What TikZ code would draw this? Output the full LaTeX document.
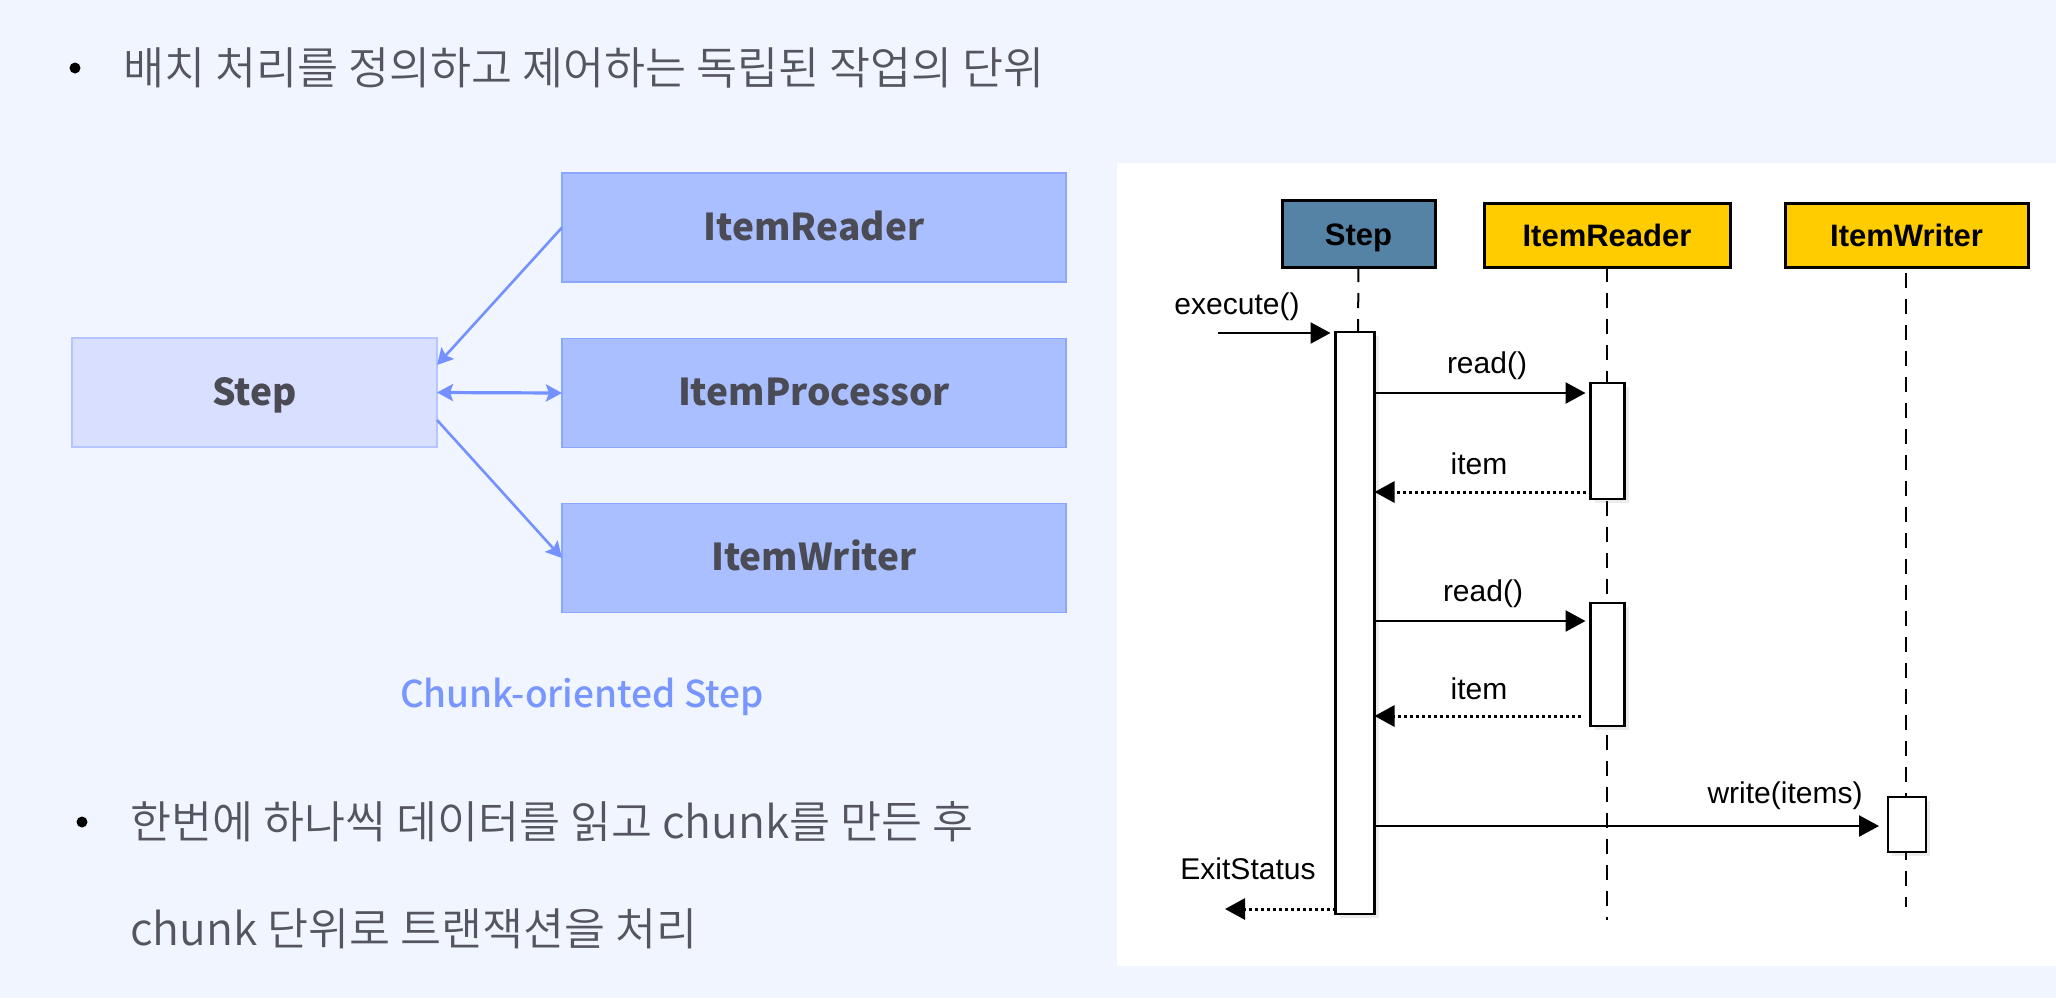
\documentclass[tikz,border=0pt]{standalone}
\usepackage{fontspec}
\setmainfont{Noto Sans CJK KR}
\newfontfamily\krlight{Noto Sans CJK KR DemiLight}
\newfontfamily\krmed{Noto Sans CJK KR Medium}
\newfontfamily\arial{Liberation Sans}
\usetikzlibrary{arrows.meta,shadows}
\definecolor{bg}{RGB}{240,245,255}
\definecolor{stepfill}{RGB}{217,224,255}
\definecolor{stepdraw}{RGB}{182,197,255}
\definecolor{itemfill}{RGB}{170,191,255}
\definecolor{itemdraw}{RGB}{140,165,255}
\definecolor{arrowblue}{RGB}{115,145,255}
\definecolor{labelgray}{RGB}{75,75,85}
\definecolor{textgray}{RGB}{85,85,95}
\definecolor{chunkblue}{RGB}{120,150,255}
\definecolor{seqblue}{RGB}{84,131,166}
\definecolor{seqyellow}{RGB}{255,204,0}
\begin{document}
\begin{tikzpicture}[x=0.5pt,y=-0.5pt,
  every node/.style={inner sep=0pt, outer sep=0pt},
  kr/.style={font=\krlight\fontsize{22.3pt}{26pt}\selectfont, text=textgray, anchor=west},
  bulletdot/.style={circle, fill=black, minimum size=5.5pt},
  stepbox/.style={draw=stepdraw, fill=stepfill, line width=0.75pt, minimum width=182.5pt, minimum height=54.5pt, font=\bfseries\fontsize{18.5pt}{22pt}\selectfont, text=labelgray, text height=12.5pt, text depth=0pt},
  itembox/.style={stepbox, draw=itemdraw, fill=itemfill, minimum width=252pt},
  bluetip/.tip={Stealth[length=8pt,width=8.5pt,inset=1.5pt]},
  bluearrow/.style={draw=arrowblue, line width=1.3pt, -bluetip},
  head/.style={draw=black, line width=1.5pt, font=\arial\bfseries\fontsize{15.5pt}{18pt}\selectfont, text height=11.5pt, text depth=0pt, minimum height=32pt},
  life/.style={line width=1pt, dash pattern=on 7.5pt off 5.5pt},
  act/.style={draw=black, fill=white, line width=1.25pt, drop shadow={opacity=0.15, shadow xshift=2pt, shadow yshift=-2pt}},
  seqtip/.tip={Triangle[length=10pt,width=10.5pt]},
  msg/.style={line width=1.25pt, -seqtip, shorten >=2.5pt},
  ret/.style={line width=1.5pt, dash pattern=on 1.5pt off 1.5pt, -seqtip},
  lbl/.style={font=\arial\fontsize{15pt}{18pt}\selectfont, anchor=base},
]
\useasboundingbox (0,0) rectangle (2056,998);
\fill[bg] (0,0) rectangle (2056,998);

% bullets and text
\node[bulletdot] (b1) at (75,68) {};
\node[kr] (t1) at (123,68) {배치 처리를 정의하고 제어하는 독립된 작업의 단위};
\node[bulletdot] (b2) at (82,822) {};
\node[kr] (t2) at (130,821.5) {한번에 하나씩 데이터를 읽고 chunk를 만든 후};
\node[kr] (t3) at (130,928.5) {chunk 단위로 트랜잭션을 처리};

% left diagram
\node[stepbox] (step) at (254.5,392.5) {Step};
\node[itembox] (reader) at (814,227.5) {ItemReader};
\node[itembox] (proc) at (814,393) {ItemProcessor};
\node[itembox] (writer) at (814,558) {ItemWriter};
\draw[bluearrow] (reader.west) -- ([yshift=-13.5pt]step.north east);
\draw[bluearrow, line width=1.6pt, bluetip-bluetip] (step.east) -- (proc.west);
\draw[bluearrow] ([yshift=-13.75pt]step.east) -- (writer.west);
\node[font=\krmed\fontsize{18.5pt}{22pt}\selectfont, text=chunkblue, anchor=base] (cap) at (582,707) {Chunk-oriented Step};

% right panel
\fill[white] (1117,163) rectangle (2056,966);
\node[head, fill=seqblue, minimum width=76.5pt, minimum height=33.5pt] (stepH) at (1358.5,233.5) {Step};
\node[head, fill=seqyellow, minimum width=123pt] (readerH) at (1607,235) {ItemReader};
\node[head, fill=seqyellow, minimum width=121.5pt] (writerH) at (1906.5,235) {ItemWriter};

\coordinate (stepLifeEnd) at (1358,332);
\coordinate (readerEnd) at (1607,920);
\coordinate (writerStart) at (1906,273);
\coordinate (writerEnd) at (1906,907);
\draw[life] (stepH.south) -- (stepLifeEnd);
\draw[life] (readerH.south) -- (readerEnd);
\draw[life] (writerStart) -- (writerEnd);

\node[act, minimum width=19.5pt, minimum height=291pt] (stepAct) at (1355,623) {};
\node[act, minimum width=17pt, minimum height=58pt] (readAct1) at (1607.5,441) {};
\node[act, minimum width=17pt, minimum height=61.5pt] (readAct2) at (1607.5,664.5) {};
\node[act, minimum width=19pt, minimum height=27.5pt] (writeAct) at (1907,824.5) {};

% messages
\coordinate (execStart) at (1218,333);
\draw[msg] (execStart) -- (execStart -| stepAct.west);
\node[lbl] (lexec) at (1237,314) {execute()};

\coordinate (r1t) at ([yshift=-5pt]readAct1.north west);
\draw[msg] (stepAct.east |- r1t) -- (r1t);
\node[lbl] (lread1) at (1487,373) {read()};

\coordinate (i1s) at ([yshift=3.5pt,xshift=-2.5pt]readAct1.south west);
\draw[ret] (i1s) -- (stepAct.east |- i1s);
\node[lbl] (litem1) at (1479,474) {item};

\coordinate (r2t) at ([yshift=-9pt]readAct2.north west);
\draw[msg] (stepAct.east |- r2t) -- (r2t);
\node[lbl] (lread2) at (1483,601) {read()};

\coordinate (i2s) at ([yshift=5pt,xshift=-5pt]readAct2.south west);
\draw[ret] (i2s) -- (stepAct.east |- i2s);
\node[lbl] (litem2) at (1479,699) {item};

\coordinate (wt) at ([yshift=-14.5pt]writeAct.north west);
\draw[msg, shorten >=4.5pt] (stepAct.east |- wt) -- (wt);
\node[lbl] (lwrite) at (1785,803) {write(items)};

\coordinate (exs) at ([yshift=2.5pt]stepAct.south west);
\coordinate (exitEnd) at (1225,909);
\draw[ret] (exs) -- (exitEnd);
\node[lbl] (lexit) at (1248,879) {ExitStatus};
\end{tikzpicture}
\end{document}
